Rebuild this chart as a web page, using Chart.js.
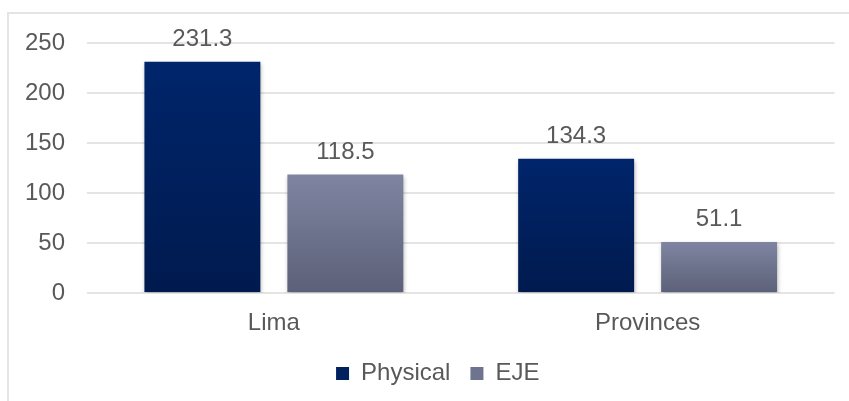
<!DOCTYPE html>
<html>
<head>
<meta charset="utf-8">
<script src="https://cdn.jsdelivr.net/npm/chart.js@4/dist/chart.umd.min.js"></script>
<style>
  html, body { margin: 0; padding: 0; background: #fff; overflow: hidden; }
  #frame {
    position: absolute; left: 7px; top: 12px;
    width: 855px; height: 387px;
    border-left: 2px solid #e4e4e4; border-top: 2px solid #e4e4e4;
  }
</style>
</head>
<body>
<div id="frame"><canvas id="chart"></canvas></div>
<script>
'use strict';

const categories = ['Lima', 'Provinces'];
const physical = [231.3, 134.3];
const eje = [118.5, 51.1];
const yTicks = [0, 50, 100, 150, 200, 250];

const font = { family: '"Liberation Sans", Arial, sans-serif', size: 24 };
const textColor = '#595959';

// per-bar vertical gradient, top lighter -> bottom darker
const barGradient = function(top, bottom){
  return function(context){
    const chart = context.chart;
    if (!chart.chartArea || context.type !== 'data') return bottom;
    const y = chart.scales.y;
    const y0 = y.getPixelForValue(context.raw);
    const y1 = y.getPixelForValue(0);
    const g = chart.ctx.createLinearGradient(0, y0, 0, y1);
    g.addColorStop(0, top);
    g.addColorStop(1, bottom);
    return g;
  };
};

const barDecor = {
  id: 'barDecor',
  afterLayout(chart){
    // legend sits a bit right of the canvas centre in the original
    chart.legend.left += 16;
    chart.legend.right += 16;
  },
  beforeDatasetsDraw(chart){
    const ctx = chart.ctx;
    ctx.save();
    ctx.shadowColor = 'rgba(0,0,0,0.28)';
    ctx.shadowBlur = 4;
    ctx.shadowOffsetX = 1;
    ctx.shadowOffsetY = 2;
  },
  afterDatasetsDraw(chart){
    const ctx = chart.ctx;
    ctx.restore();
    ctx.save();
    ctx.font = font.size + 'px ' + font.family;
    ctx.fillStyle = textColor;
    ctx.textAlign = 'center';
    ctx.textBaseline = 'alphabetic';
    chart.data.datasets.forEach(function(ds, i){
      const meta = chart.getDatasetMeta(i);
      meta.data.forEach(function(bar, j){
        ctx.fillText(ds.data[j].toFixed(1), bar.x, bar.y - 16);
      });
    });
    ctx.restore();
  }
};

const ctx = document.getElementById('chart').getContext('2d');
const chart = new Chart(ctx, {
  type: 'bar',
  data: {
    labels: categories,
    datasets: [
      {
        label: 'Physical',
        data: physical,
        backgroundColor: barGradient('#00256b', '#001a4e'),
        borderWidth: 0
      },
      {
        label: 'EJE',
        data: eje,
        backgroundColor: barGradient('#7f85a1', '#5c6078'),
        borderWidth: 0
      }
    ]
  },
  options: {
    responsive: true,
    maintainAspectRatio: false,
    animation: false,
    categoryPercentage: 0.765,
    barPercentage: 0.811,
    layout: { padding: { top: 29, right: 29.5, bottom: 5.5, left: 0 } },
    plugins: {
      legend: {
        position: 'bottom',
        labels: {
          font: font,
          color: textColor,
          boxWidth: 13,
          boxHeight: 13,
          padding: 20,
          generateLabels(chart){
            const fills = ['#00205e', '#6e7490'];
            return chart.data.datasets.map(function(ds, i){
              return {
                text: ds.label,
                fillStyle: fills[i],
                strokeStyle: 'rgba(0,0,0,0)',
                lineWidth: 0,
                fontColor: textColor,
                datasetIndex: i
              };
            });
          }
        }
      },
      tooltip: { enabled: false }
    },
    scales: {
      x: {
        grid: { display: false },
        border: { display: false },
        ticks: { font: font, color: textColor, padding: 8 },
        afterFit(scale){ scale.height = 48.5; }
      },
      y: {
        min: 0,
        max: 250,
        afterBuildTicks(scale){ scale.ticks = yTicks.map(v => ({ value: v })); },
        grid: { color: '#e4e4e4', lineWidth: 2, drawTicks: false },
        border: { display: false },
        ticks: { font: font, color: textColor, padding: 22 },
        afterFit(scale){
          scale.width = 78;
          scale.paddingTop = 0;
          scale.paddingBottom = 0;
        }
      }
    }
  },
  plugins: [barDecor]
});
</script>
</body>
</html>
